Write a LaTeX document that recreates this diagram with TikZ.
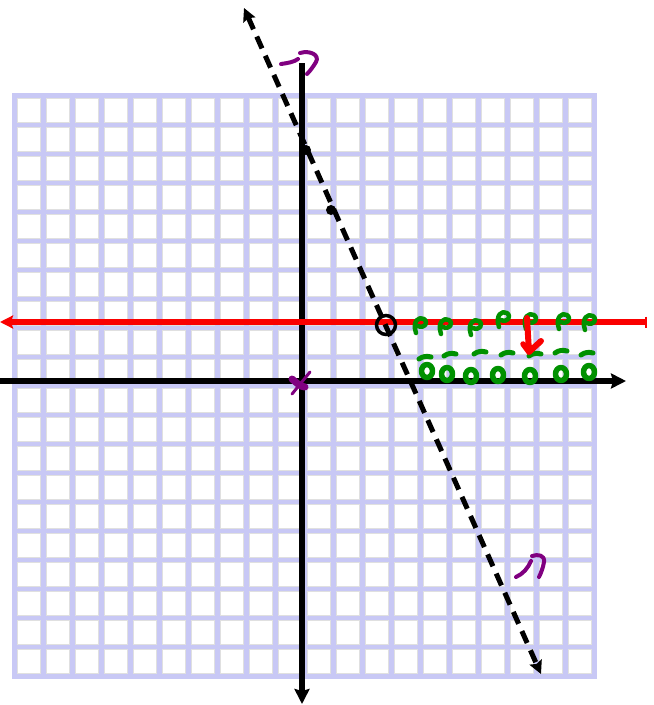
\documentclass[tikz,border=0pt]{standalone}
\usepackage{xcolor}
\usepackage{tikz}
\usetikzlibrary{arrows.meta}

\definecolor{gridblue}{RGB}{200,200,245}
\definecolor{inkgreen}{RGB}{0,145,0}
\definecolor{inkpurple}{RGB}{128,0,128}
\definecolor{inkred}{RGB}{250,0,0}

\begin{document}
\begin{tikzpicture}[x=1pt, y=-1pt]
      \tikzset{gridcell/.style={fill=white, draw=black!12, line width=0.8pt},
        axis/.style={line width=5.5pt, -{Stealth[length=15pt, width=15pt, inset=2pt]}},
        dashline/.style={line width=5pt, dash pattern=on 13pt off 8pt,
          {Stealth[length=13pt, width=13pt, inset=2pt]}-{Stealth[length=13pt, width=13pt, inset=2pt]}},
        redline/.style={inkred, line width=5.5pt},
        blackdot/.style={circle, fill=black, minimum size=10pt, inner sep=0pt},
        opendot/.style={circle, draw=black, line width=3.5pt, minimum size=19pt, inner sep=0pt},
        greenink/.style={inkgreen, line width=4.5pt, line cap=round, line join=round},
        purpleink/.style={inkpurple, line width=4pt, line cap=round, line join=round}}
      \useasboundingbox (0,0) rectangle (654,705);
      % grid paper
      \fill[gridblue] (11.5,93) rectangle (597,678.5);
      \foreach \i in {0,...,19}
        \foreach \j in {0,...,19}
          \filldraw[gridcell] ({17+29*\i},{98.5+29*\j}) rectangle ({40.5+29*\i},{122+29*\j});
      % axes
      \coordinate (xleft) at (0,381);
      \coordinate (xright) at (626,381);
      \coordinate (ytop) at (302,63);
      \coordinate (ybottom) at (302,704);
      \draw[axis] (xleft) -- (xright);
      \draw[axis, {Stealth[length=15pt, width=15pt, inset=2pt]}-] (ybottom) -- (ytop);
      % horizontal red line
      \coordinate (rleft) at (0,322);
      \coordinate (rright) at (647,322);
      \draw[redline, {Stealth[length=13pt, width=13pt, inset=2pt]}-{Bar[width=11pt, line width=2pt]}] (rleft) -- (rright);
      % dashed line with its points
      \coordinate (dtop) at (244,8);
      \coordinate (dbottom) at (541,674);
      \draw[dashline] (dtop) -- (dbottom);
      \node[blackdot] (pone) at (306,150) {};
      \node[blackdot] (ptwo) at (331,210) {};
      \node[opendot] (hole) at (386,325) {};
      % green shading marks
      \foreach \x/\y in {420/324, 445/325, 475/326, 503/318, 530/320, 563/320, 589/321}
        \draw[greenink] (\x-4,\y+9) .. controls (\x-8,\y-3) and (\x-1,\y-8) .. (\x+4,\y-5)
          .. controls (\x+9,\y-1) and (\x+4,\y+5) .. (\x-2,\y+2);
      \foreach \x/\y in {425/358, 450/355, 480/353, 507/354, 535/355, 561/352, 587/354}
        \draw[greenink, line width=5pt] (\x-6,\y+1) .. controls (\x-2,\y-2) and (\x+2,\y-2) .. (\x+6,\y-1);
      \foreach \x/\y in {427/371, 447/374, 471/376, 498/375, 530/376, 561/374, 589/372}
        \draw[greenink, line width=5.5pt] (\x,\y) ellipse (5.5pt and 6.5pt);
      % red hint arrow
      \draw[redline, line width=6pt, line cap=round, line join=round] (527,318) -- (529,352) -- (541,341);
      \draw[redline, line width=5.5pt, line cap=round] (523,344) -- (529,352);
      % purple marks
      \draw[purpleink] (281,64) .. controls (288,63) and (294,62) .. (298,59);
      \draw[purpleink] (300,53) .. controls (310,50) and (320,55) .. (316,62)
        .. controls (313,67) and (310,71) .. (307,74);
      \draw[purpleink] (516,577) .. controls (523,574) and (528,568) .. (531,561);
      \draw[purpleink] (532,556) .. controls (538,554) and (545,555) .. (544,562)
        .. controls (543,568) and (541,573) .. (539,577);
      \draw[purpleink, line width=7pt] (292,379) .. controls (296,382) and (300,387) .. (305,387);
      \draw[purpleink, line width=3pt] (292,394) -- (310,372);
\end{tikzpicture}
\end{document}
